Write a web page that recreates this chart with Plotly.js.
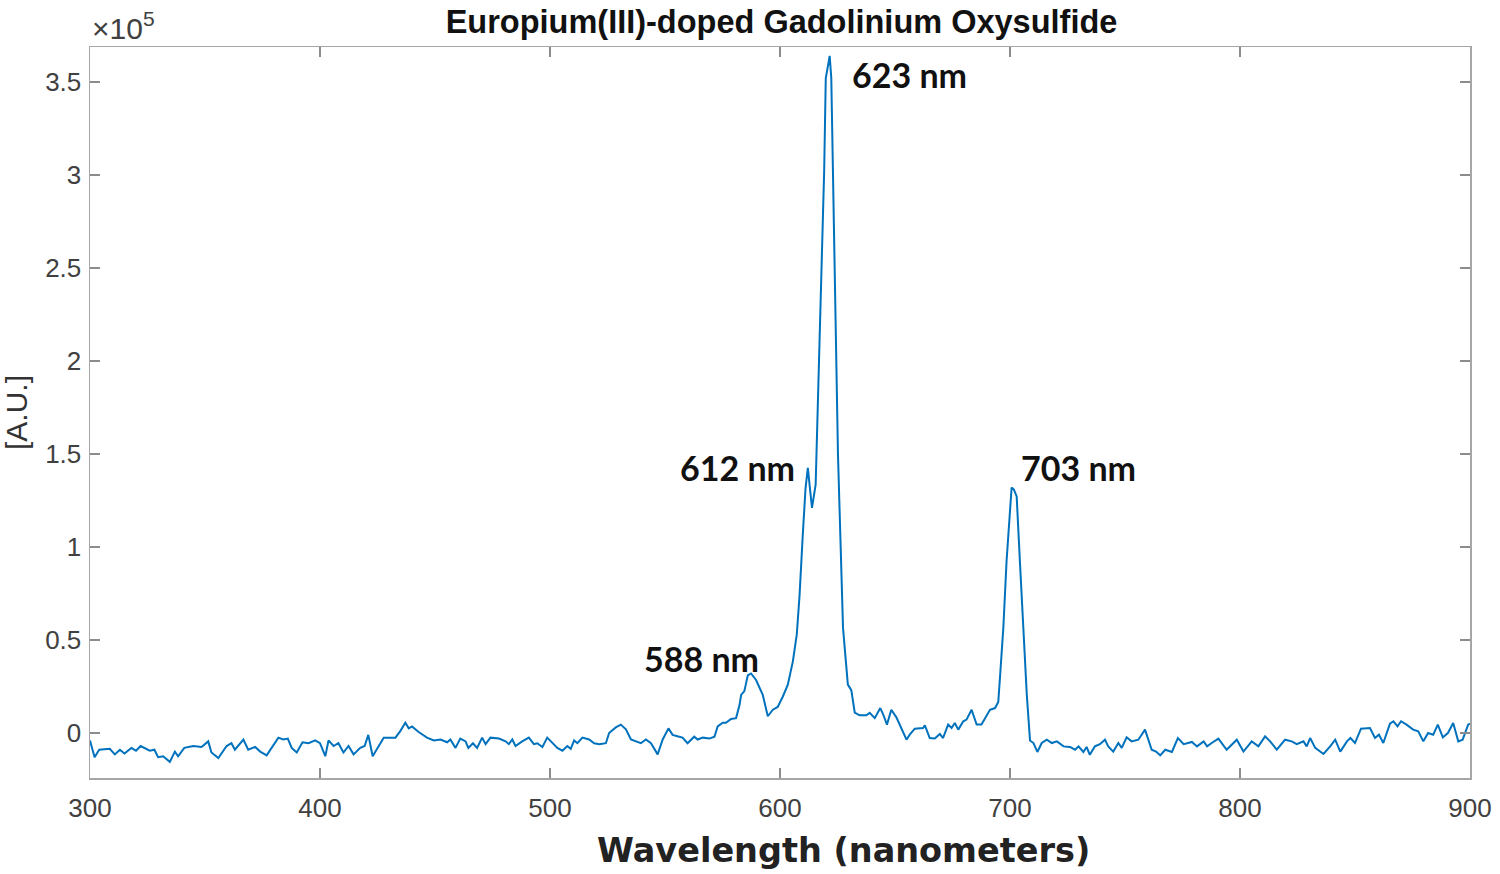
<!DOCTYPE html>
<html>
<head>
<meta charset="utf-8">
<script src="https://cdn.plot.ly/plotly-3.0.1.min.js"></script>
<style>
  body { margin: 0; background: #fff; }
  #chartDiv { width: 1500px; height: 874px; }
</style>
</head>
<body>
<div id="chartDiv"></div>
<script>
// emission spectrum, intensity in units of 1e5 (A.U.)
const wavelength = [
  300, 302, 304, 308.6, 310.8, 313, 315, 318, 320, 322, 326, 328, 329.6, 331.8, 334.7, 336.9, 338.3, 341, 344.9, 348.5,
  351.4, 352.8, 355.8, 359.4, 361.5, 363, 366.7, 368.8, 371.8, 374, 376.8, 379, 381.9, 384, 386, 387.7, 389.9, 392.4, 395, 397.9,
  400, 402.3, 403.7, 405.9, 408, 410.2, 412.4, 414.6, 417.5, 419.4, 421, 422.9, 425.5, 427.7, 432.8, 434.9, 437.1, 438.6, 440, 442.9,
  446.5, 449.5, 452.4, 455.3, 456.7, 458.9, 461, 463.3, 464.5, 466.5, 468.3, 470.5, 472, 474.1, 477.8, 480.7, 482.1, 483.6, 485, 487.9,
  490.8, 493, 494.5, 496.7, 498.8, 501, 503.2, 505.4, 507.5, 509, 510.5, 511.9, 514.1, 517, 519.2, 521.4, 524.3, 525.7, 528.6, 530.8,
  533, 535.2, 537.3, 539.5, 541.7, 543.9, 546.8, 549, 551.5, 553.3, 556.2, 557.6, 559.8, 562.7, 564.2, 566.4, 569.3, 571.5, 572.9, 575.1,
  576.5, 578.7, 580.9, 582.4, 583.1, 584.5, 586, 587.4, 589.6, 592.5, 594.7, 596.9, 599, 601.2, 603.4, 605.6, 607.3, 608.5, 609.9, 611.1,
  612.1, 613.9, 615.5, 619.2, 619.9, 621.6, 622.3, 625.2, 627.4, 629.5, 631, 632.5, 634.6, 637.5, 639, 641.2, 643.6, 644.8, 646.5, 648.4,
  650.6, 652.8, 655, 656.4, 658.6, 662.2, 663, 665.1, 667.3, 669.5, 670.9, 673.1, 674.6, 676, 677.5, 679.7, 681.1, 683.3, 685.5, 687.6,
  691.3, 693.5, 694.9, 695.6, 697.1, 698.5, 700, 700.7, 701.7, 702.9, 704.3, 705.8, 707.3, 708.7, 710.2, 711.9, 713.8, 716, 718.2, 720.4,
  723.3, 726.1, 728.3, 729.8, 731.9, 733.3, 734.7, 736.9, 739.1, 741.3, 742.7, 744.9, 747.1, 748.6, 750.7, 752.9, 755.8, 758.7, 761.6, 763.5,
  765.3, 767.5, 770.4, 773, 775.5, 779.1, 781.3, 784.2, 785.7, 787.7, 790.6, 794.2, 798.6, 801.5, 805.1, 808, 810.9, 813.1, 816, 819.6,
  822.5, 824.7, 827.6, 829, 830.5, 832.7, 836.3, 839.2, 841.4, 843.6, 846.5, 848, 850, 852.6, 856.5, 858.7, 860.4, 862.3, 865.2, 866.7,
  868.5, 870, 872.4, 875.3, 877.5, 879.7, 881.8, 884, 886, 888.2, 890.4, 892.7, 894.9, 896.8, 899.2, 900
];
const intensity = [
  -0.04, -0.13, -0.09, -0.085, -0.115, -0.09, -0.11, -0.08, -0.095, -0.07, -0.095, -0.09, -0.13, -0.125, -0.155, -0.10, -0.125, -0.08, -0.07, -0.075,
  -0.045, -0.105, -0.135, -0.07, -0.055, -0.09, -0.035, -0.09, -0.075, -0.10, -0.12, -0.08, -0.025, -0.035, -0.03, -0.08, -0.105, -0.05, -0.055, -0.04,
  -0.055, -0.125, -0.04, -0.07, -0.055, -0.105, -0.07, -0.115, -0.08, -0.07, -0.01, -0.125, -0.07, -0.025, -0.025, 0.01, 0.055, 0.025, 0.035, 0.005,
  -0.025, -0.04, -0.035, -0.05, -0.035, -0.08, -0.03, -0.045, -0.08, -0.055, -0.08, -0.025, -0.06, -0.025, -0.03, -0.045, -0.06, -0.035, -0.07, -0.045,
  -0.025, -0.06, -0.055, -0.075, -0.025, -0.055, -0.08, -0.095, -0.07, -0.085, -0.04, -0.055, -0.025, -0.035, -0.055, -0.06, -0.055, 0.0, 0.03, 0.045,
  0.02, -0.035, -0.045, -0.055, -0.035, -0.055, -0.115, -0.035, 0.025, -0.01, -0.02, -0.025, -0.055, -0.02, -0.035, -0.025, -0.03, -0.02, 0.035, 0.055,
  0.055, 0.075, 0.08, 0.15, 0.205, 0.225, 0.31, 0.32, 0.285, 0.205, 0.09, 0.125, 0.14, 0.195, 0.26, 0.385, 0.53, 0.74, 1.065, 1.315,
  1.425, 1.21, 1.335, 3.02, 3.52, 3.64, 3.52, 1.5, 0.565, 0.26, 0.23, 0.11, 0.095, 0.095, 0.108, 0.08, 0.134, 0.102, 0.045, 0.125,
  0.084, 0.027, -0.036, -0.009, 0.023, 0.027, 0.041, -0.027, -0.03, -0.005, -0.027, 0.045, 0.027, 0.054, 0.018, 0.063, 0.072, 0.125, 0.045, 0.045,
  0.125, 0.134, 0.167, 0.29, 0.565, 0.923, 1.21, 1.32, 1.308, 1.272, 0.923, 0.565, 0.206, -0.04, -0.054, -0.102, -0.054, -0.036, -0.054, -0.045,
  -0.072, -0.075, -0.09, -0.072, -0.102, -0.075, -0.117, -0.072, -0.06, -0.036, -0.072, -0.1, -0.054, -0.08, -0.023, -0.045, -0.036, 0.018, -0.09, -0.1,
  -0.12, -0.09, -0.102, -0.027, -0.06, -0.048, -0.072, -0.045, -0.072, -0.054, -0.03, -0.09, -0.036, -0.1, -0.045, -0.072, -0.018, -0.045, -0.09, -0.036,
  -0.045, -0.06, -0.045, -0.072, -0.027, -0.08, -0.113, -0.072, -0.036, -0.1, -0.045, -0.027, -0.054, 0.023, 0.027, -0.027, -0.009, -0.054, 0.05, 0.063,
  0.036, 0.063, 0.045, 0.018, 0.009, -0.045, 0, -0.009, 0.045, -0.023, 0, 0.054, -0.045, -0.036, 0.045, 0.05
];

const xTicks = [300, 400, 500, 600, 700, 800, 900];
const yTicks = [0, 0.5, 1, 1.5, 2, 2.5, 3, 3.5];
const yTickText = ['0', '0.5', '1', '1.5', '2', '2.5', '3', '3.5'];

const peakLabels = ['588 nm', '612 nm', '623 nm', '703 nm'];
const peakX = [566, 607.5, 630.5, 704];
const peakY = [0.40, 1.425, 3.54, 1.425];
const peakAnchor = ['center', 'right', 'left', 'left'];

const trace = {
  x: wavelength,
  y: intensity,
  type: 'scatter',
  mode: 'lines',
  line: { color: '#0072BD', width: 2 },
  hoverinfo: 'x+y'
};

const axisCommon = {
  showline: true,
  mirror: 'ticks',
  linecolor: '#a6a6a6',
  linewidth: 1.5,
  ticks: 'inside',
  ticklen: 10,
  tickwidth: 1.2,
  tickcolor: '#8c8c8c',
  showgrid: false,
  zeroline: false,
  tickfont: { family: 'Liberation Sans, Arial, sans-serif', size: 26, color: '#404040' }
};

const annotations = peakLabels.map(function (t, i) {
  return {
    x: peakX[i], y: peakY[i], xref: 'x', yref: 'y',
    text: '<b>' + t + '</b>', showarrow: false,
    xanchor: peakAnchor[i], yanchor: 'middle',
    font: { family: 'Lato, Open Sans, sans-serif', size: 34, color: '#111' }
  };
});
annotations.push({
  x: 0, y: 1, xref: 'paper', yref: 'paper',
  xanchor: 'left', yanchor: 'bottom', yshift: 0,
  text: '×10<sup>5</sup>', showarrow: false,
  font: { family: 'Liberation Sans, Arial, sans-serif', size: 30, color: '#404040' }
});
// x-axis title sits right of centre in the reference
annotations.push({
  x: 0.546, y: -0.0985, xref: 'paper', yref: 'paper',
  xanchor: 'center', yanchor: 'middle',
  text: '<b>Wavelength (nanometers)</b>', showarrow: false,
  font: { family: 'DejaVu Sans, sans-serif', size: 33.5, color: '#222' }
});

const layout = {
  width: 1500,
  height: 874,
  margin: { l: 90, r: 30, t: 47, b: 96 },
  paper_bgcolor: '#fff',
  plot_bgcolor: '#fff',
  showlegend: false,
  title: {
    text: '<b>Europium(III)-doped Gadolinium Oxysulfide</b>',
    x: 0.521, xanchor: 'center', y: 0.975, yanchor: 'middle',
    font: { family: 'Liberation Sans, Arial, sans-serif', size: 32.5, color: '#111' }
  },
  xaxis: Object.assign({}, axisCommon, {
    range: [300, 900],
    tickvals: xTicks,
    ticklabelstandoff: 6
  }),
  yaxis: Object.assign({}, axisCommon, {
    range: [-0.242, 3.688],
    tickvals: yTicks,
    ticktext: yTickText,
    ticklabelstandoff: 2,
    title: {
      text: '[A.U.]',
      standoff: 14,
      font: { family: 'Liberation Sans, Arial, sans-serif', size: 30, color: '#333' }
    }
  }),
  annotations: annotations
};

Plotly.newPlot('chartDiv', [trace], layout, { staticPlot: true });
</script>
</body>
</html>
